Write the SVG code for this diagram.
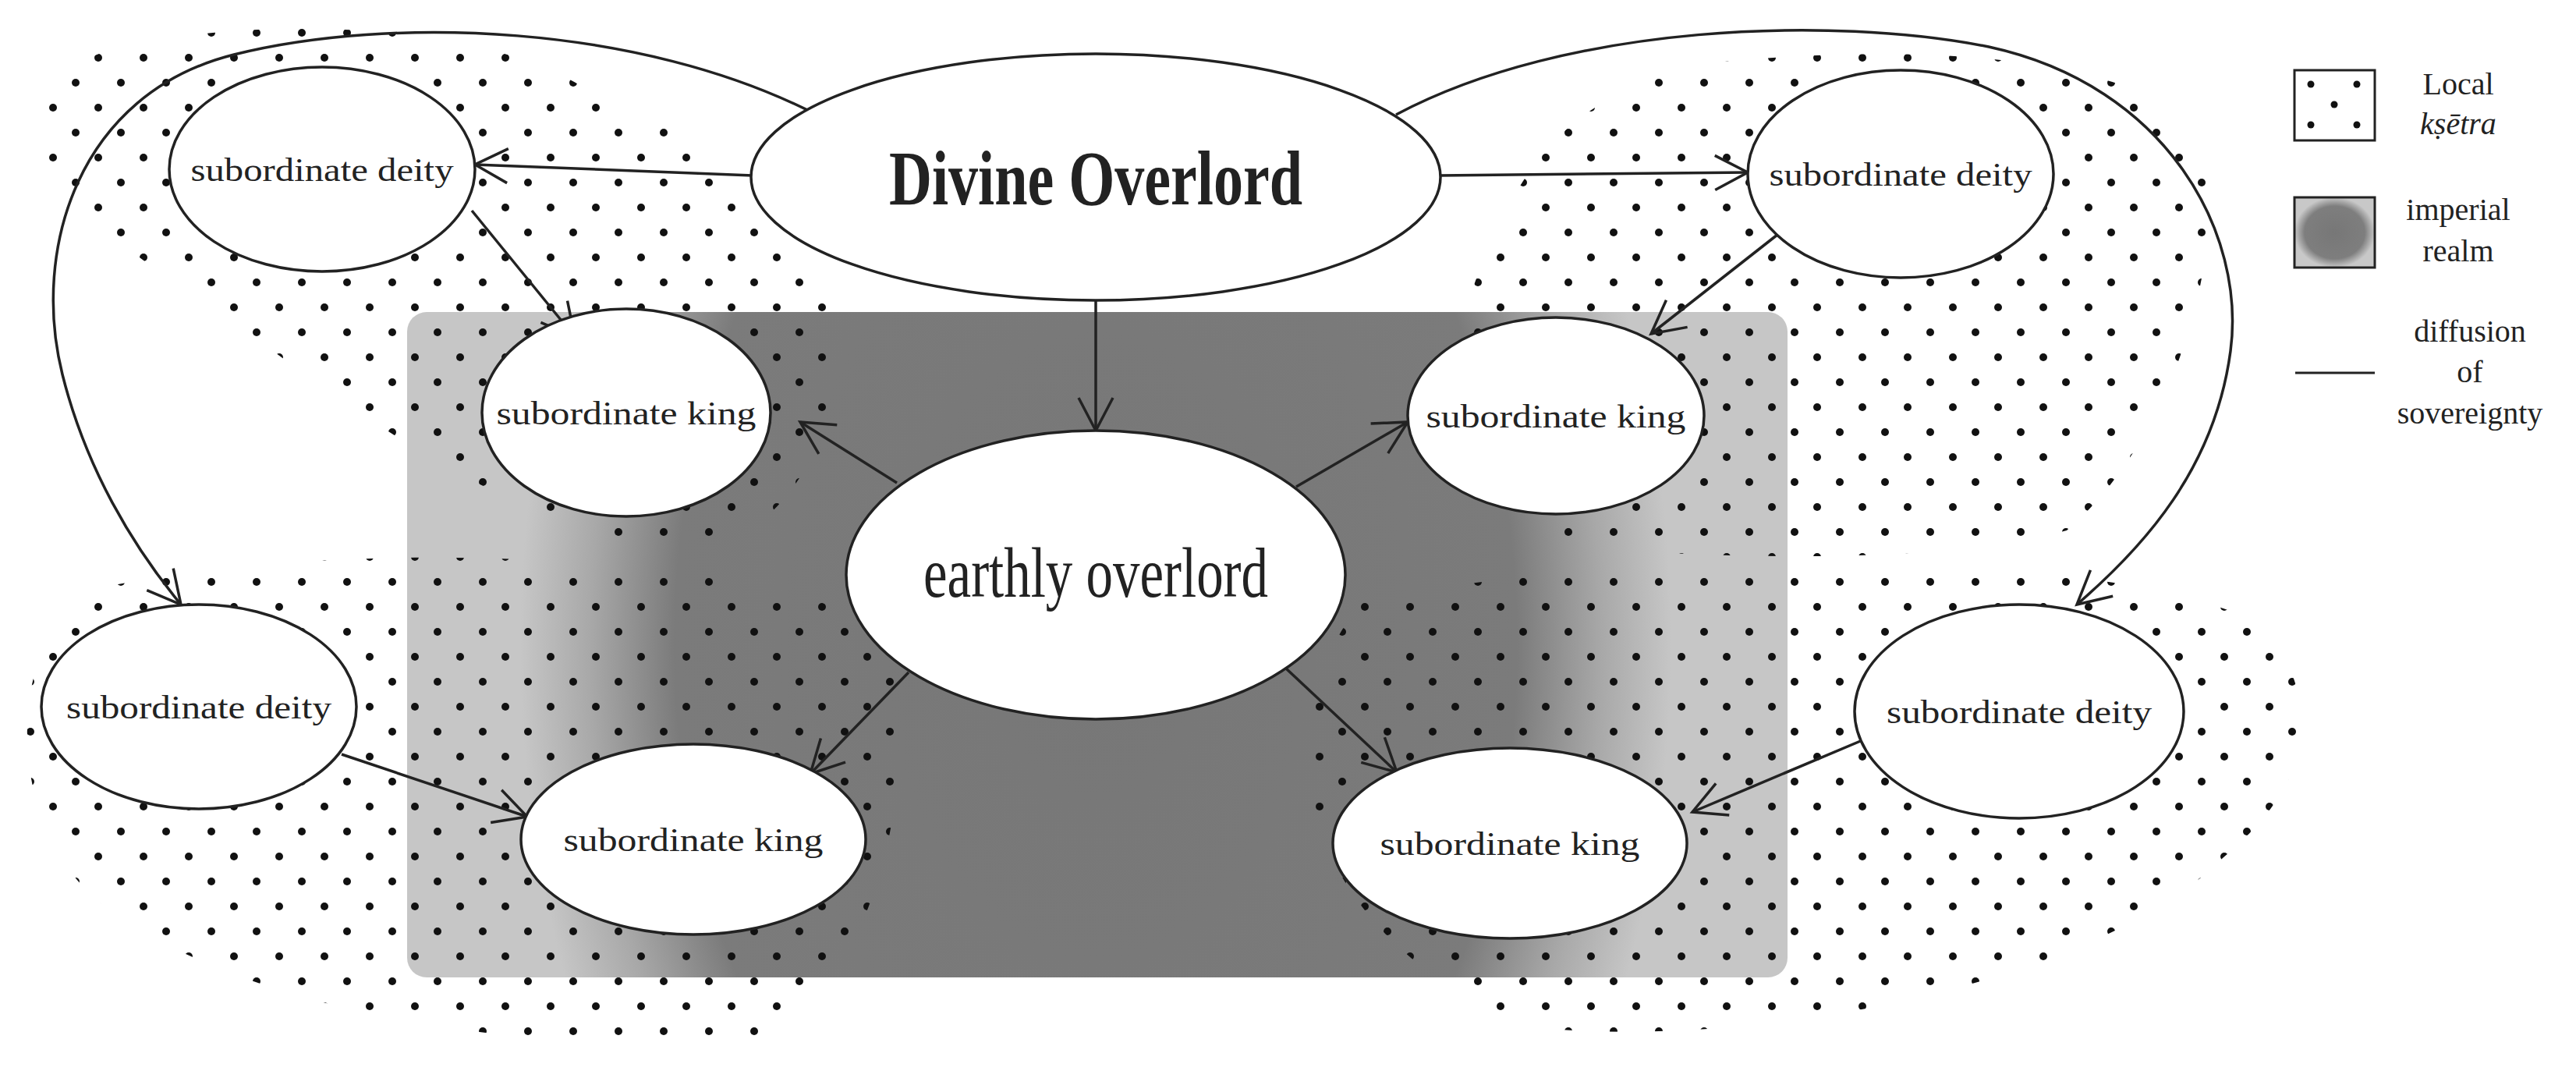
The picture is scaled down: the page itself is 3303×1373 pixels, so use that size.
<svg xmlns="http://www.w3.org/2000/svg" width="3303" height="1373" viewBox="0 0 3303 1373">
<style>
.n{fill:#fff;stroke:#222;stroke-width:3.5}
.c{fill:none;stroke:#222;stroke-width:3.5}
.t{font-family:"Liberation Serif",serif;fill:#222;text-anchor:middle}
.dots{fill:url(#dp)}
</style>
<defs>
<pattern id="dp" width="58" height="64" patternUnits="userSpaceOnUse">
<circle cx="10" cy="10" r="5" fill="#111"/><circle cx="39" cy="42" r="5" fill="#111"/>
</pattern>
<radialGradient id="rg" gradientUnits="userSpaceOnUse" cx="1405" cy="826" r="900" gradientTransform="translate(1405 826) scale(1 1.5) translate(-1405 -826)">
<stop offset="0" stop-color="#777"/><stop offset="0.6" stop-color="#7b7b7b"/><stop offset="0.72" stop-color="#a8a8a8"/><stop offset="0.82" stop-color="#c6c6c6"/>
</radialGradient>
<radialGradient id="lg" cx="0.5" cy="0.5" r="0.5">
<stop offset="0" stop-color="#777"/><stop offset="0.75" stop-color="#7e7e7e"/><stop offset="1" stop-color="#c8c8c8"/>
</radialGradient>
<marker id="a" markerWidth="60" markerHeight="60" refX="0" refY="30" orient="auto" markerUnits="userSpaceOnUse" viewBox="-50 0 60 60">
<path d="M-42,8 L0,30 L-42,52" fill="none" stroke="#222" stroke-width="3.5"/>
</marker>
</defs>
<rect width="3303" height="1373" fill="#fff"/>
<rect x="522" y="400" width="1770" height="853" rx="25" fill="url(#rg)"/>
<g id="ksetra">
<path class="dots" d="M210,50 C400,20 650,40 760,120 C960,200 1080,330 1070,470 C1060,620 960,700 900,700 C700,700 500,560 350,450 C180,330 40,250 50,160 C60,90 120,60 210,50 Z"/>
<path class="dots" d="M2200,80 C2500,50 2800,80 2830,200 C2850,330 2790,560 2650,680 C2500,720 2250,720 2000,700 C1860,640 1850,450 1900,340 C1950,220 2000,120 2200,80 Z"/>
<path class="dots" d="M100,760 C400,690 900,700 1130,800 C1180,950 1150,1200 1000,1330 C700,1360 300,1300 120,1150 C10,1050 10,850 100,760 Z"/>
<path class="dots" d="M1750,770 C2100,700 2700,700 2900,800 C2980,900 2970,1000 2850,1100 C2700,1250 2300,1340 2000,1320 C1800,1280 1660,1100 1680,950 C1690,850 1720,800 1750,770 Z"/>
</g>
<g id="connectors">
<path class="c" marker-end="url(#a)" d="M965,225 L609,211"/>
<path class="c" marker-end="url(#a)" d="M1845,225 L2241,221"/>
<path class="c" marker-end="url(#a)" d="M1405,385 L1405,552"/>
<path class="c" marker-end="url(#a)" d="M605,270 L737,432"/>
<path class="c" marker-end="url(#a)" d="M2284,297 L2117,428"/>
<path class="c" marker-end="url(#a)" d="M1150,619 L1026,541"/>
<path class="c" marker-end="url(#a)" d="M1662,624 L1805,541"/>
<path class="c" marker-end="url(#a)" d="M1165,862 L1039,992"/>
<path class="c" marker-end="url(#a)" d="M1649,857 L1791,990"/>
<path class="c" marker-end="url(#a)" d="M438,967 L676,1047"/>
<path class="c" marker-end="url(#a)" d="M2395,946 L2170,1041"/>
<path class="c" marker-end="url(#a)" d="M1047,147 C820,30 500,20 300,70 C100,120 40,320 80,480 C110,600 170,700 232,775"/>
<path class="c" marker-end="url(#a)" d="M1790,147 C2010,30 2350,20 2550,60 C2780,110 2880,300 2860,450 C2840,600 2750,700 2663,775"/>
</g>
<g id="divine"><ellipse class="n" cx="1405" cy="227" rx="442" ry="158"/><text class="t" x="1405" y="262" font-size="100" font-weight="bold" textLength="530" lengthAdjust="spacingAndGlyphs">Divine Overlord</text></g>
<g id="earthly"><ellipse class="n" cx="1405" cy="737" rx="320" ry="185"/><text class="t" x="1405" y="765" font-size="92" textLength="442" lengthAdjust="spacingAndGlyphs">earthly overlord</text></g>
<g id="deity-tl"><ellipse class="n" cx="413" cy="217" rx="196" ry="131"/><text class="t" x="413" y="232" font-size="42" textLength="337" lengthAdjust="spacingAndGlyphs">subordinate deity</text></g>
<g id="deity-tr"><ellipse class="n" cx="2437" cy="223" rx="196" ry="133"/><text class="t" x="2437" y="238" font-size="42" textLength="337" lengthAdjust="spacingAndGlyphs">subordinate deity</text></g>
<g id="king-tl"><ellipse class="n" cx="803" cy="529" rx="185" ry="133"/><text class="t" x="803" y="544" font-size="42" textLength="333" lengthAdjust="spacingAndGlyphs">subordinate king</text></g>
<g id="king-tr"><ellipse class="n" cx="1995" cy="533" rx="190" ry="126"/><text class="t" x="1995" y="548" font-size="42" textLength="333" lengthAdjust="spacingAndGlyphs">subordinate king</text></g>
<g id="deity-bl"><ellipse class="n" cx="255" cy="906" rx="202" ry="131"/><text class="t" x="255" y="921" font-size="42" textLength="340" lengthAdjust="spacingAndGlyphs">subordinate deity</text></g>
<g id="deity-br"><ellipse class="n" cx="2589" cy="912" rx="211" ry="137"/><text class="t" x="2589" y="927" font-size="42" textLength="340" lengthAdjust="spacingAndGlyphs">subordinate deity</text></g>
<g id="king-bl"><ellipse class="n" cx="889" cy="1076" rx="221" ry="122"/><text class="t" x="889" y="1091" font-size="42" textLength="333" lengthAdjust="spacingAndGlyphs">subordinate king</text></g>
<g id="king-br"><ellipse class="n" cx="1936" cy="1081" rx="227" ry="122"/><text class="t" x="1936" y="1096" font-size="42" textLength="333" lengthAdjust="spacingAndGlyphs">subordinate king</text></g>
<g id="legend">
<rect x="2942" y="90" width="103" height="90" fill="#fff" stroke="#222" stroke-width="3"/>
<circle cx="2963" cy="108" r="4.5" fill="#111"/><circle cx="3022" cy="108" r="4.5" fill="#111"/><circle cx="2993" cy="134" r="4.5" fill="#111"/><circle cx="2963" cy="160" r="4.5" fill="#111"/><circle cx="3022" cy="160" r="4.5" fill="#111"/>
<text class="t" x="3152" y="121" font-size="40">Local</text>
<text class="t" x="3152" y="172" font-size="40" font-style="italic">kṣētra</text>
<rect x="2942" y="253" width="103" height="90" fill="url(#lg)" stroke="#222" stroke-width="3"/>
<text class="t" x="3152" y="282" font-size="40">imperial</text>
<text class="t" x="3152" y="335" font-size="40">realm</text>
<line x1="2943" y1="478" x2="3045" y2="478" stroke="#222" stroke-width="3"/>
<text class="t" x="3167" y="438" font-size="40">diffusion</text>
<text class="t" x="3167" y="490" font-size="40">of</text>
<text class="t" x="3167" y="543" font-size="40">sovereignty</text>
</g>
</svg>
